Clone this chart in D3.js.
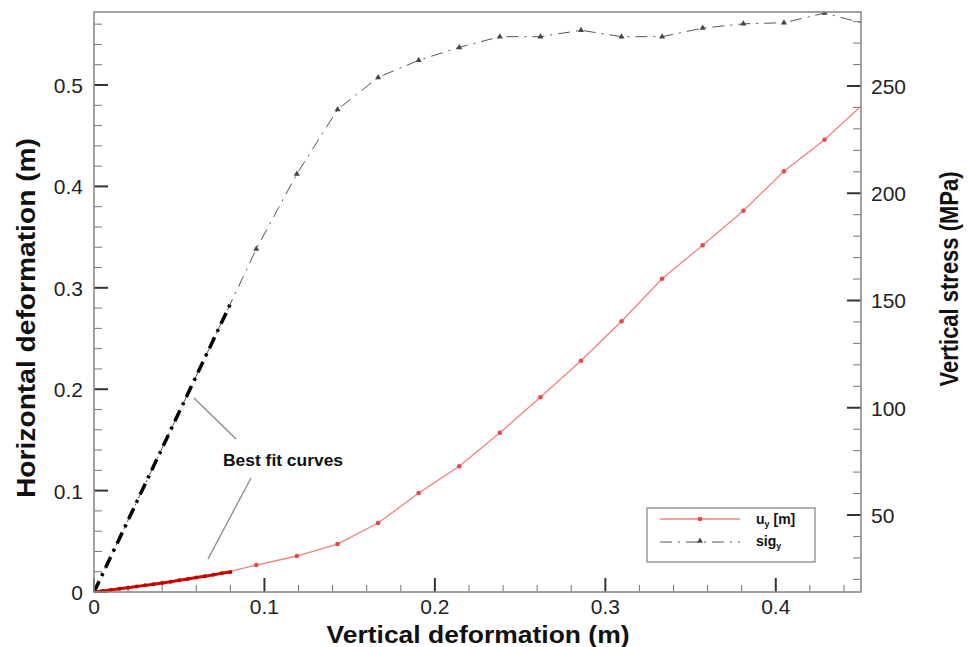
<!DOCTYPE html>
<html><head><meta charset="utf-8">
<script src="https://cdn.jsdelivr.net/npm/d3@7"></script>
<style>
html,body{margin:0;padding:0;background:#fff;}
text{font-family:"Liberation Sans",Arial,sans-serif;}
</style></head>
<body><svg id="c" width="968" height="647"></svg>
<script>
// ---- data ----
const vertDef = [0, 0.0238, 0.0476, 0.0714, 0.0952, 0.119, 0.1429, 0.1667, 0.1905, 0.2143, 0.2381, 0.2619, 0.2857, 0.3095, 0.3333, 0.3571, 0.381, 0.4048, 0.4286, 0.4524];
const horizDef = [0, 0.005, 0.011, 0.017, 0.0266, 0.0355, 0.0473, 0.068, 0.0976, 0.124, 0.157, 0.192, 0.228, 0.267, 0.309, 0.342, 0.376, 0.415, 0.446, 0.483];
const vertStress = [14, 54, 94, 134, 174, 209, 239, 254, 262, 268, 273, 273, 276, 273, 273, 277, 279, 279.5, 284, 279];
const fitX = [0, 0.005, 0.01, 0.015, 0.02, 0.025, 0.03, 0.035, 0.04, 0.045, 0.05, 0.055, 0.06, 0.065, 0.07, 0.075, 0.08];
const fitHoriz = [0, 0.00102, 0.00206, 0.00314, 0.00424, 0.00538, 0.00654, 0.00774, 0.00896, 0.0102, 0.0115, 0.0128, 0.0142, 0.0155, 0.0169, 0.0184, 0.0198];
const fitStress = [14, 22.4, 30.8, 39.2, 47.6, 56, 64.4, 72.8, 81.2, 89.6, 98, 106.4, 114.8, 123.2, 131.6, 140, 148.4];
const xTicks = [0, 0.1, 0.2, 0.3, 0.4];
const xTickLabels = ["0", "0.1", "0.2", "0.3", "0.4"];
const yLTicks = [0, 0.1, 0.2, 0.3, 0.4, 0.5];
const yLTickLabels = ["0", "0.1", "0.2", "0.3", "0.4", "0.5"];
const yRTicks = [50, 100, 150, 200, 250];
const yRTickLabels = ["50", "100", "150", "200", "250"];
const seriesNames = ["u", "sig"];
const annotation = "Best fit curves";

// ---- layout ----
const L = 94, R = 861, T = 12, B = 592;
const svg = d3.select("#c");
const x = d3.scaleLinear().domain([0, 0.45]).range([L, R]);
const yL = d3.scaleLinear().domain([0, 0.572]).range([B, T]);
const yR = d3.scaleLinear().domain([14.1, 284.5]).range([B, T]);

svg.append("defs").append("clipPath").attr("id", "clip")
  .append("rect").attr("x", L).attr("y", T).attr("width", R - L).attr("height", B - T);

const frameCol = "#8a8a8a", tickCol = "#333", minorCol = "#777";
const fmtMinor = (arr, step, max) => d3.range(0, max + 1e-9, step).filter(v => !arr.some(a => Math.abs(a - v) < 1e-9));

// minor ticks
const g = svg.append("g");
const xMinor = fmtMinor(xTicks, 0.02, 0.44);
g.selectAll(".xm").data(xMinor).join("line")
  .attr("x1", d => x(d)).attr("x2", d => x(d)).attr("y1", B).attr("y2", B - 7)
  .attr("stroke", minorCol).attr("stroke-width", 1);
const yLMinor = fmtMinor(yLTicks, 0.02, 0.56);
g.selectAll(".ylm").data(yLMinor).join("line")
  .attr("y1", d => yL(d)).attr("y2", d => yL(d)).attr("x1", L).attr("x2", L + 8)
  .attr("stroke", minorCol).attr("stroke-width", 1);
const yRMinor = d3.range(20, 285, 10).filter(v => v % 50 !== 0);
g.selectAll(".yrm").data(yRMinor).join("line")
  .attr("y1", d => yR(d)).attr("y2", d => yR(d)).attr("x1", R).attr("x2", R - 8)
  .attr("stroke", minorCol).attr("stroke-width", 1);
// major ticks
g.selectAll(".xM").data(xTicks).join("line")
  .attr("x1", d => x(d)).attr("x2", d => x(d)).attr("y1", B).attr("y2", B - 14)
  .attr("stroke", tickCol).attr("stroke-width", 2);
g.selectAll(".ylM").data(yLTicks).join("line")
  .attr("y1", d => yL(d)).attr("y2", d => yL(d)).attr("x1", L).attr("x2", L + 14)
  .attr("stroke", tickCol).attr("stroke-width", 2);
g.selectAll(".yrM").data(yRTicks).join("line")
  .attr("y1", d => yR(d)).attr("y2", d => yR(d)).attr("x1", R).attr("x2", R - 14)
  .attr("stroke", tickCol).attr("stroke-width", 2);

// tick labels
const tl = svg.append("g").attr("fill", "#222").attr("font-size", 21);
tl.selectAll(".xl").data(xTicks).join("text")
  .attr("x", d => x(d)).attr("y", 614).attr("text-anchor", "middle")
  .text((d, i) => xTickLabels[i]);
tl.selectAll(".yll").data(yLTicks).join("text")
  .attr("x", 83).attr("y", d => yL(d) + 8).attr("text-anchor", "end")
  .text((d, i) => yLTickLabels[i]);
tl.selectAll(".yrl").data(yRTicks).join("text")
  .attr("x", 871).attr("y", d => yR(d) + 8).attr("text-anchor", "start")
  .text((d, i) => yRTickLabels[i]);

// axis titles
svg.append("text").attr("x", 478).attr("y", 643).attr("text-anchor", "middle")
  .attr("font-size", 23).attr("font-weight", "bold").attr("fill", "#111")
  .attr("textLength", 303).attr("lengthAdjust", "spacingAndGlyphs").text("Vertical deformation (m)");
svg.append("text").attr("transform", "translate(35,318) rotate(-90)").attr("text-anchor", "middle")
  .attr("font-size", 25).attr("font-weight", "bold").attr("fill", "#111")
  .attr("textLength", 360).attr("lengthAdjust", "spacingAndGlyphs").text("Horizontal deformation (m)");
svg.append("text").attr("transform", "translate(958,279) rotate(-90)").attr("text-anchor", "middle")
  .attr("font-size", 25).attr("font-weight", "bold").attr("fill", "#111")
  .attr("textLength", 215).attr("lengthAdjust", "spacingAndGlyphs").text("Vertical stress (MPa)");

// series
const plot = svg.append("g").attr("clip-path", "url(#clip)");
const idx = d3.range(vertDef.length);
const lineU = d3.line().x(i => x(vertDef[i])).y(i => yL(horizDef[i]));
const lineS = d3.line().x(i => x(vertDef[i])).y(i => yR(vertStress[i]));
const fidx = d3.range(fitX.length);
const fitLineU = d3.line().x(i => x(fitX[i])).y(i => yL(fitHoriz[i]));
const fitLineS = d3.line().x(i => x(fitX[i])).y(i => yR(fitStress[i]));

plot.append("path").attr("d", lineS(idx)).attr("fill", "none")
  .attr("stroke", "#555").attr("stroke-width", 1).attr("stroke-dasharray", "12,6,2,6");
const tri = d3.symbol().type(d3.symbolTriangle).size(16);
plot.selectAll(".st").data(idx.slice(4)).join("path")
  .attr("d", tri).attr("transform", i => `translate(${x(vertDef[i])},${yR(vertStress[i])})`)
  .attr("fill", "#444");

plot.append("path").attr("d", lineU(idx)).attr("fill", "none")
  .attr("stroke", "#f28080").attr("stroke-width", 1.3);
plot.selectAll(".uc").data(idx.slice(4)).join("circle")
  .attr("cx", i => x(vertDef[i])).attr("cy", i => yL(horizDef[i])).attr("r", 2.3)
  .attr("fill", "#ee4444");

// best fit curves
plot.append("path").attr("d", fitLineS(fidx)).attr("fill", "none")
  .attr("stroke", "#000").attr("stroke-width", 3.5).attr("stroke-dasharray", "12,6,3,6");
plot.append("path").attr("d", fitLineU(fidx)).attr("fill", "none")
  .attr("stroke", "#d40000").attr("stroke-width", 3);
plot.selectAll(".fc").data(fidx).join("circle")
  .attr("cx", i => x(fitX[i])).attr("cy", i => yL(fitHoriz[i])).attr("r", 2)
  .attr("fill", "#c00000");

// frame
svg.append("rect").attr("x", L).attr("y", T).attr("width", R - L).attr("height", B - T)
  .attr("fill", "none").attr("stroke", frameCol).attr("stroke-width", 1.6);

// annotation
svg.append("text").attr("x", 283).attr("y", 466).attr("text-anchor", "middle")
  .attr("font-size", 16).attr("font-weight", "bold").attr("fill", "#111")
  .attr("textLength", 120).attr("lengthAdjust", "spacingAndGlyphs").text(annotation);
svg.append("line").attr("x1", 194).attr("y1", 398).attr("x2", 236).attr("y2", 439)
  .attr("stroke", "#888").attr("stroke-width", 1.3);
svg.append("line").attr("x1", 251).attr("y1", 478).attr("x2", 208).attr("y2", 559)
  .attr("stroke", "#888").attr("stroke-width", 1.3);

// legend
const lg = svg.append("g");
lg.append("rect").attr("x", 647).attr("y", 508).attr("width", 168).attr("height", 54)
  .attr("fill", "#fff").attr("stroke", "#999").attr("stroke-width", 1.5);
lg.append("line").attr("x1", 660).attr("x2", 740).attr("y1", 519).attr("y2", 519)
  .attr("stroke", "#f28080").attr("stroke-width", 1.3);
lg.append("circle").attr("cx", 700).attr("cy", 519).attr("r", 2.3).attr("fill", "#ee4444");
lg.append("line").attr("x1", 660).attr("x2", 740).attr("y1", 542).attr("y2", 542)
  .attr("stroke", "#555").attr("stroke-width", 1).attr("stroke-dasharray", "12,6,2,6");
lg.append("path").attr("d", tri).attr("transform", "translate(700,541)").attr("fill", "#444");
const t1 = lg.append("text").attr("x", 756).attr("y", 524).attr("font-size", 14).attr("font-weight", "bold").attr("fill", "#111");
t1.append("tspan").text(seriesNames[0]);
t1.append("tspan").attr("font-size", 9).attr("dy", 3).text("y");
t1.append("tspan").attr("dy", -3).text(" [m]");
const t2 = lg.append("text").attr("x", 756).attr("y", 546).attr("font-size", 14).attr("font-weight", "bold").attr("fill", "#111");
t2.append("tspan").text(seriesNames[1]);
t2.append("tspan").attr("font-size", 9).attr("dy", 3).text("y");
</script></body></html>
